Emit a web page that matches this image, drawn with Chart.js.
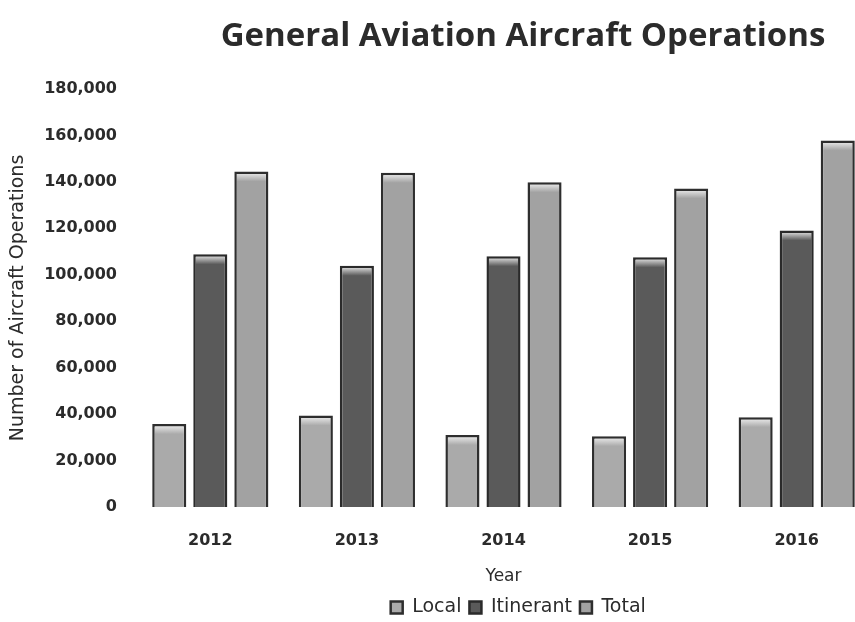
<!DOCTYPE html>
<html>
<head>
<meta charset="utf-8">
<script src="https://cdn.jsdelivr.net/npm/chart.js@4"></script>
<style>
  html, body { margin: 0; padding: 0; background: #fff; overflow: hidden; }
  #wrap { position: relative; width: 880px; height: 622px; }
  #title {
    position: absolute; left: 0; top: 11px; width: 1046px; text-align: center;
    font-family: "Open Sans", sans-serif; font-weight: 700; font-size: 33px; color: #2b2b2b;
  }
  canvas { position: absolute; left: 0; top: 0; }
</style>
</head>
<body>
<div id="wrap">
  <canvas id="chart" width="880" height="622"></canvas>
  <div id="title">General Aviation Aircraft Operations</div>
</div>
<script>
// Datos
const years = ['2012', '2013', '2014', '2015', '2016'];
const localOps = [35700, 39400, 31000, 30500, 38700];
const itinerantOps = [108800, 103900, 108000, 107500, 119100];
const totalOps = [144500, 143900, 139800, 137200, 157800];

const FONT = '"DejaVu Sans", sans-serif';
const TEXT = '#2b2b2b';

const ctx = document.getElementById('chart').getContext('2d');

// Relleno con brillo blanco arriba de cada barra
const barFill = (color) => (c) => {
    const chart = c.chart;
    if (!c.parsed || !chart.chartArea) return color;
    const y = chart.scales.y.getPixelForValue(c.parsed.y);
    const g = chart.ctx.createLinearGradient(0, y, 0, y + 10);
    g.addColorStop(0, '#f4f4f4');
    g.addColorStop(1, color);
    return g;
};

// Leyenda: entrada vacía al inicio para desplazar los items a la derecha
const legendLabels = (chart) => {
    const items = Chart.defaults.plugins.legend.labels.generateLabels(chart);
    items.forEach((it, i) => { it.fillStyle = [ '#aaaaaa', '#5a5a5a', '#a2a2a2' ][i]; });
    items.unshift({ text: '', fillStyle: 'rgba(0,0,0,0)', strokeStyle: 'rgba(0,0,0,0)', lineWidth: 0, hidden: false, datasetIndex: -1 });
    return items;
};

new Chart(ctx, {
    type: 'bar',
    data: {
        labels: years,
        datasets: [
            { label: 'Local', data: localOps, backgroundColor: barFill('#aaaaaa'), borderColor: '#2e2e2e', borderWidth: 2.5 },
            { label: 'Itinerant', data: itinerantOps, backgroundColor: barFill('#5a5a5a'), borderColor: '#2a2a2a', borderWidth: 2.5 },
            { label: 'Total', data: totalOps, backgroundColor: barFill('#a2a2a2'), borderColor: '#2e2e2e', borderWidth: 2.5 }
        ]
    },
    options: {
        responsive: false,
        animation: false,
        datasets: { bar: { categoryPercentage: 0.84, barPercentage: 0.83 } },
        layout: { padding: { top: 89, right: 10, left: 0, bottom: -5 } },
        plugins: {
            legend: {
                position: 'bottom',
                fullSize: false,
                labels: {
                    font: { family: FONT, size: 19 },
                    color: TEXT,
                    boxWidth: 12,
                    boxHeight: 12,
                    padding: 8,
                    generateLabels: legendLabels
                }
            },
            tooltip: { enabled: false }
        },
        scales: {
            x: {
                grid: { display: false },
                border: { display: false },
                ticks: { font: { family: FONT, size: 16, weight: 'bold' }, color: TEXT, padding: 16 },
                title: { display: true, text: 'Year', font: { family: FONT, size: 17 }, color: TEXT, padding: { top: 0, bottom: 3 } },
                afterFit: (s) => { s.height = 83; }
            },
            y: {
                min: 0,
                max: 180000,
                grid: { display: false },
                border: { display: false },
                ticks: {
                    stepSize: 20000,
                    font: { family: FONT, size: 16, weight: 'bold' },
                    color: TEXT,
                    padding: 12,
                    callback: (v) => v.toLocaleString('en-US')
                },
                title: { display: true, text: 'Number of Aircraft Operations', font: { family: FONT, size: 19 }, color: TEXT, padding: { top: 7, bottom: 4 } },
                afterFit: (s) => { s.width = 137; }
            }
        }
    }
});
</script>
</body>
</html>
